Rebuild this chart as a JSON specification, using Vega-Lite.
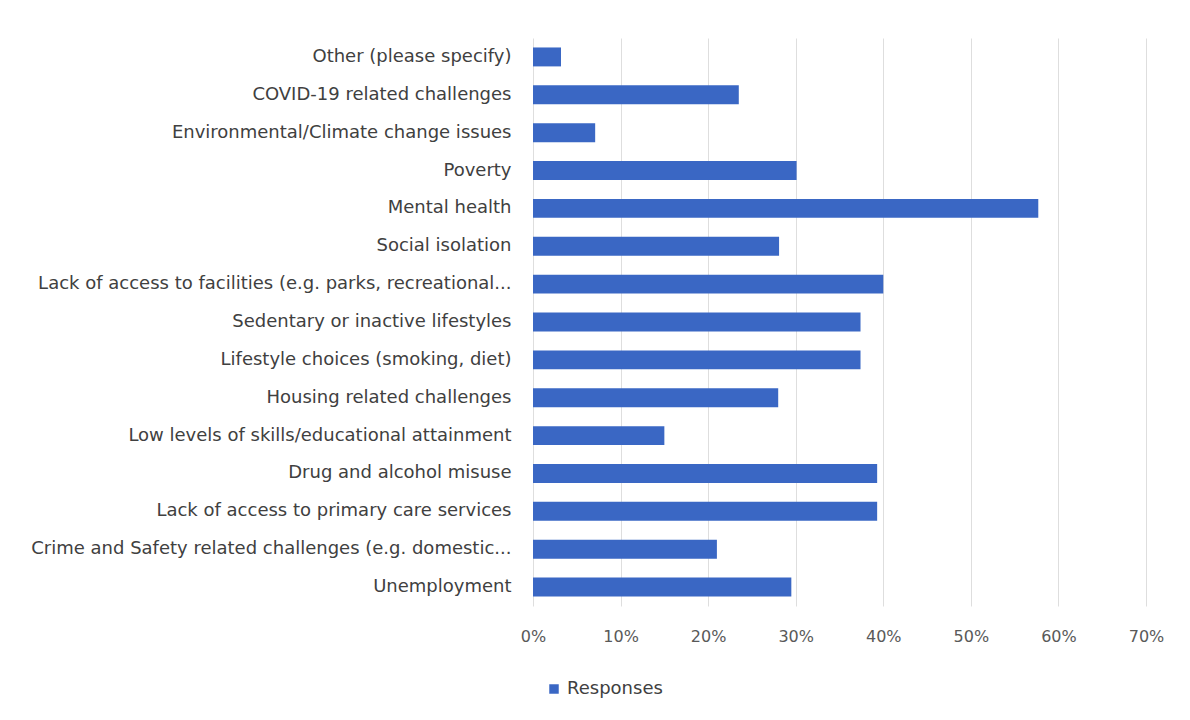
{
  "$schema": "https://vega.github.io/schema/vega-lite/v6.json",
  "autosize": "none",
  "width": 613,
  "height": 568,
  "padding": {"left": 533, "top": 38, "right": 44, "bottom": 114},
  "background": "white",
  "data": {
    "values": [
      {"issue": "Other (please specify)", "value": 0.032, "series": "Responses"},
      {"issue": "COVID-19 related challenges", "value": 0.235, "series": "Responses"},
      {"issue": "Environmental/Climate change issues", "value": 0.071, "series": "Responses"},
      {"issue": "Poverty", "value": 0.301, "series": "Responses"},
      {"issue": "Mental health", "value": 0.577, "series": "Responses"},
      {"issue": "Social isolation", "value": 0.281, "series": "Responses"},
      {"issue": "Lack of access to facilities (e.g. parks, recreational...", "value": 0.400, "series": "Responses"},
      {"issue": "Sedentary or inactive lifestyles", "value": 0.374, "series": "Responses"},
      {"issue": "Lifestyle choices (smoking, diet)", "value": 0.374, "series": "Responses"},
      {"issue": "Housing related challenges", "value": 0.280, "series": "Responses"},
      {"issue": "Low levels of skills/educational attainment", "value": 0.150, "series": "Responses"},
      {"issue": "Drug and alcohol misuse", "value": 0.393, "series": "Responses"},
      {"issue": "Lack of access to primary care services", "value": 0.393, "series": "Responses"},
      {"issue": "Crime and Safety related challenges (e.g. domestic...", "value": 0.210, "series": "Responses"},
      {"issue": "Unemployment", "value": 0.295, "series": "Responses"}
    ]
  },
  "mark": {"type": "bar", "cornerRadius": 0},
  "encoding": {
    "y": {
      "field": "issue", "type": "nominal", "sort": null, "title": null,
      "scale": {"paddingInner": 0.5, "paddingOuter": 0.25},
      "axis": {"domain": false, "ticks": false, "labelPadding": 22, "labelFont": "DejaVu Sans", "labelFontSize": 18, "labelColor": "#404040", "labelLimit": 0}
    },
    "x": {
      "field": "value", "type": "quantitative", "title": null,
      "scale": {"domain": [0, 0.7], "nice": false},
      "axis": {"format": ".0%", "values": [0, 0.1, 0.2, 0.3, 0.4, 0.5, 0.6, 0.7], "domain": false, "ticks": false, "labelPadding": 22, "labelFont": "DejaVu Sans", "labelFontSize": 16, "labelColor": "#595959", "gridColor": "#dedede", "labelFlush": false}
    },
    "color": {
      "field": "series", "type": "nominal",
      "scale": {"range": ["#3a67c4"]},
      "legend": {"title": null, "orient": "none", "legendX": 12, "legendY": 642, "symbolType": "square", "symbolSize": 90, "labelFont": "DejaVu Sans", "labelFontSize": 18, "labelColor": "#404040"}
    }
  },
  "config": {"view": {"stroke": null}}
}
